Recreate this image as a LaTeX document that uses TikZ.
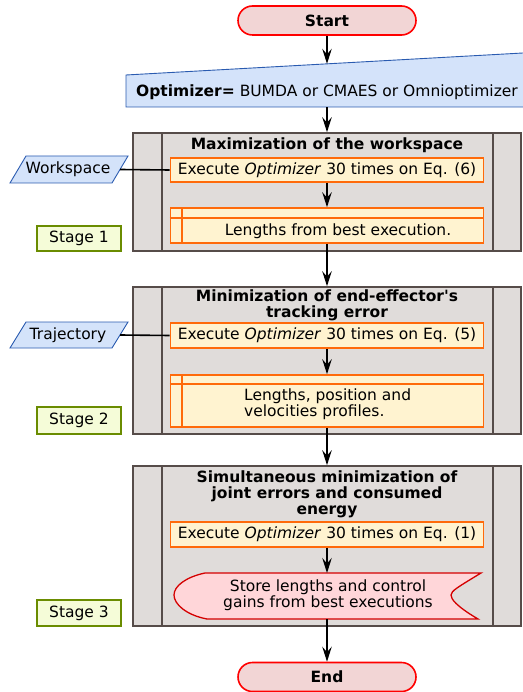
\documentclass[tikz,border=0pt]{standalone}
\usepackage{fontspec}
\setmainfont{DejaVu Sans}[Ligatures=TeXOff]
\usetikzlibrary{shapes.misc,arrows.meta,calc}
\definecolor{termfill}{HTML}{F2D5D5}
\definecolor{termdraw}{HTML}{FF0000}
\definecolor{inpfill}{HTML}{D4E3FA}
\definecolor{inpdraw}{HTML}{2A5BB0}
\definecolor{procfill}{HTML}{E0DCDA}
\definecolor{procdraw}{HTML}{564C49}
\definecolor{exfill}{HTML}{FFF3D0}
\definecolor{exdraw}{HTML}{FF6A0A}
\definecolor{stfill}{HTML}{F5FCD8}
\definecolor{stdraw}{HTML}{6A8C00}
\definecolor{storefill}{HTML}{FFD6D9}
\definecolor{storedraw}{HTML}{D40000}
\begin{document}
\begin{tikzpicture}[x=1pt,y=-1pt,
  font=\fontsize{15.5}{15.8}\selectfont,
  term/.style={rounded rectangle, draw=termdraw, fill=termfill, line width=1.6pt,
    minimum width=178pt, minimum height=29pt, inner sep=0pt,
    font=\fontsize{15.5}{15.8}\selectfont\bfseries},
  proc/.style={draw=procdraw, fill=procfill, line width=1.6pt, minimum width=388pt, inner sep=0pt},
  procline/.style={draw=procdraw, line width=1.6pt},
  exec/.style={draw=exdraw, fill=exfill, line width=1.6pt, minimum width=313pt,
    minimum height=24pt, inner sep=0pt},
  exline/.style={draw=exdraw, line width=1.6pt},
  stagebox/.style={draw=stdraw, fill=stfill, line width=1.6pt, minimum width=84pt,
    minimum height=25pt, inner sep=0pt},
  inp/.style={draw=inpdraw, fill=inpfill, line width=0.9pt},
  title/.style={font=\fontsize{15.5}{15.8}\selectfont\bfseries, align=center, inner sep=0pt},
  conn/.style={line width=1.2pt, -{Stealth[length=15pt,width=9.5pt,inset=5.5pt]}},
  link/.style={line width=1.6pt},
  plain/.style={inner sep=0pt, align=center}
]
\useasboundingbox (0,0) rectangle (522,692);

% Start
\node[term] (start) at (327,20.5) {Start};

% Optimizer (manual input)
\draw[inp] (126,75) -- (530,52.6) -- (530,107) -- (126,107) -- cycle;
\node[plain, minimum height=30pt] (opt) at (327,92) {{\bfseries Optimizer=} BUMDA or CMAES or Omnioptimizer};
\coordinate (optTop) at (327,63.8);

% Stage 1
\node[proc, minimum height=118pt] (s1) at (327,192) {};
\draw[procline] ($(s1.north west)+(30,0)$) -- ($(s1.south west)+(30,0)$);
\draw[procline] ($(s1.north east)+(-29,0)$) -- ($(s1.south east)+(-29,0)$);
\node[title] (t1) at (327,145) {Maximization of the workspace};
\node[exec] (e1) at (327,170) {Execute \textit{Optimizer} 30 times on Eq. (6)};
\node[exec, minimum height=35pt] (l1) at (327,225.5) {};
\draw[exline] ($(l1.north west)+(0,11)$) -- ($(l1.north east)+(0,11)$);
\draw[exline] ($(l1.north west)+(12,0)$) -- ($(l1.south west)+(12,0)$);
\node[plain] (l1t) at (338,231) {Lengths from best execution.};

\draw[inp] (26,156) -- (128,156) -- (112,183) -- (10,183) -- cycle;
\node[plain, minimum width=104pt] (ws) at (68,169.5) {Workspace};
\node[stagebox] (st1) at (79,238.5) {Stage 1};

% Stage 2
\node[proc, minimum height=147pt] (s2) at (327,360.5) {};
\draw[procline] ($(s2.north west)+(30,0)$) -- ($(s2.south west)+(30,0)$);
\draw[procline] ($(s2.north east)+(-29,0)$) -- ($(s2.south east)+(-29,0)$);
\node[title] (t2) at (327,305.5) {Minimization of end-effector's\\tracking error};
\node[exec, minimum height=25pt] (e2) at (327,335.5) {Execute \textit{Optimizer} 30 times on Eq. (5)};
\node[exec, minimum height=52pt] (l2) at (327,401) {};
\draw[exline] ($(l2.north west)+(0,10)$) -- ($(l2.north east)+(0,10)$);
\draw[exline] ($(l2.north west)+(12,0)$) -- ($(l2.south west)+(12,0)$);
\node[plain, align=left, anchor=west] (l2t) at (244,404) {Lengths, position and\\velocities profiles.};

\draw[inp] (26,322) -- (128,322) -- (112,348) -- (10,348) -- cycle;
\node[plain, minimum width=104pt] (tr) at (68,335) {Trajectory};
\node[stagebox, minimum height=27pt] (st2) at (79,420.5) {Stage 2};

% Stage 3
\node[proc, minimum height=160pt] (s3) at (327,546) {};
\draw[procline] ($(s3.north west)+(30,0)$) -- ($(s3.south west)+(30,0)$);
\draw[procline] ($(s3.north east)+(-29,0)$) -- ($(s3.south east)+(-29,0)$);
\node[title] (t3) at (327,494) {Simultaneous minimization of\\joint errors and consumed\\energy};
\node[exec, minimum height=25pt] (e3) at (327,534.5) {Execute \textit{Optimizer} 30 times on Eq. (1)};
\draw[draw=storedraw, fill=storefill, line width=1.3pt]
  (205,573) -- (481,573)
  .. controls (458,587) and (451,591) .. (451,595)
  .. controls (451,599) and (456,606) .. (478,619)
  -- (207,619)
  .. controls (186,615) and (174,604) .. (174,595)
  .. controls (174,586) and (186,577) .. (205,573) -- cycle;
\node[plain] (store) at (328,595) {Store lengths and control\\gains from best executions};
\coordinate (storeTop) at (327,573);
\coordinate (storeBot) at (327,619);
\node[stagebox, minimum height=26pt] (st3) at (79,613) {Stage 3};

% End
\node[term] (end) at (327,677) {End};

% connectors
\draw[conn] (start.south) -- (optTop);
\draw[conn] (opt.south) -- (s1.north);
\draw[conn] (e1.south) -- (l1.north);
\draw[conn] (l1.south) -- (s2.north);
\draw[conn] (e2.south) -- (l2.north);
\draw[conn] (l2.south) -- (s3.north);
\draw[conn] (e3.south) -- (storeTop);
\draw[conn] (storeBot) -- (end.north);
\draw[link] (ws.east) -- (e1.west);
\draw[link] (tr.east) -- (e2.west);
\end{tikzpicture}
\end{document}
